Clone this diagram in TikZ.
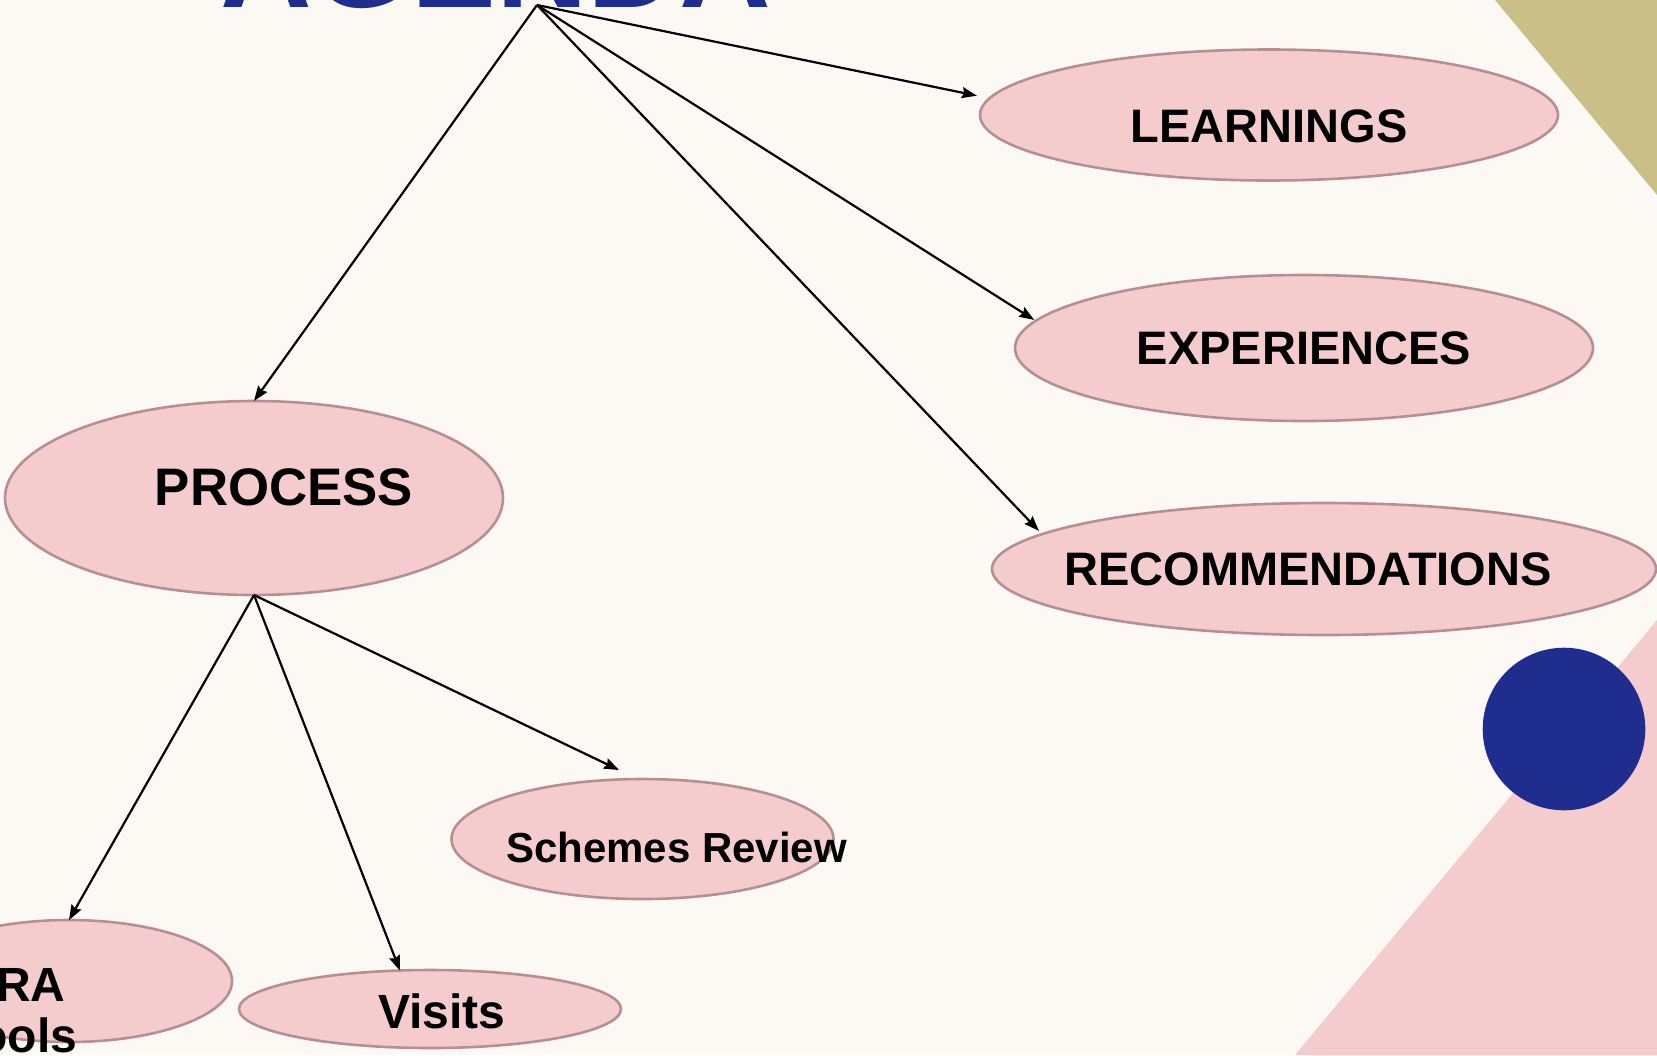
\documentclass[tikz,border=0pt]{standalone}
\usepackage{fontspec}
\setmainfont{Liberation Sans}
\usetikzlibrary{shapes.geometric, arrows.meta}
\definecolor{bg}{HTML}{FCF9F5}
\definecolor{rose}{HTML}{F4CCCE}
\definecolor{roseline}{HTML}{B68E94}
\definecolor{navy}{HTML}{1F2D8E}
\definecolor{olive}{HTML}{CBBF88}
\begin{document}
\begin{tikzpicture}[x=0.5pt, y=-0.5pt, line join=round, >={Stealth[length=7.5pt, width=5.5pt, inset=1pt]},
  topic/.style={ellipse, fill=rose, draw=roseline, line width=1.3pt, inner sep=0pt, outer sep=0pt},
  lbl/.style={font=\bfseries\fontsize{#1}{#1}\selectfont, inner sep=0pt}]
    \useasboundingbox (0,0) rectangle (1657,1055);
    \clip (0,0) rectangle (1657,1055);
    \fill[bg] (0,0) rectangle (1657,1055);
    % corner decoration
    \fill[olive] (1495,0)--(1657,0)--(1657,195)--cycle;
    \fill[rose] (1657,620)--(1657,1055)--(1295,1055)--cycle;
    \fill[navy] (1564,729) circle (40.65pt);
    \node[navy, anchor=base, lbl=63.5] (title) at (496,7) {AGENDA};
    \path (537,5) coordinate (root);
    % first level
    \node[topic, minimum width=289pt, minimum height=65.5pt, label={[lbl=23.5, yshift=-5.5pt]center:LEARNINGS}] (learn) at (1269,115) {};
    \node[topic, minimum width=289pt, minimum height=73pt, label={[lbl=23.5]center:EXPERIENCES}] (exper) at (1304,348) {};
    \node[topic, minimum width=332pt, minimum height=66pt, label={[lbl=23.5, xshift=-8pt]center:RECOMMENDATIONS}] (recom) at (1324,569) {};
    \node[topic, minimum width=249pt, minimum height=97pt, label={[lbl=26.4, xshift=15pt, yshift=5.5pt]center:PROCESS}] (proc) at (254,498) {};
    % second level
    \node[topic, minimum width=191pt, minimum height=60pt, label={[lbl=21, xshift=17pt, yshift=-4pt]center:Schemes Review}] (schemes) at (642.5,839) {};
    \node[topic, minimum width=191pt, minimum height=39pt, label={[lbl=24, xshift=6pt, yshift=-1pt]center:Visits}] (visits) at (430,1009) {};
    \node[topic, minimum width=163pt, minimum height=61pt, label={[lbl=24, align=center, xshift=-27pt, yshift=-15pt]center:PRA\\[1.5pt]Tools}] (tools) at (69,981) {};
    \foreach \t/\s in {learn.176/-16, exper.174/-3, recom.172/-14, proc.north/0}
    \draw[->, line width=1.1pt] (root)--([xshift=\s*0.5pt]\t);
    \foreach \t in {tools.north, visits.128}
    \draw[->, line width=1.1pt] (proc.south)--(\t);
    \draw[->, line width=1.1pt] (proc.south)--([shift={(-23.5,-9)}]schemes.north);
\end{tikzpicture}
\end{document}
